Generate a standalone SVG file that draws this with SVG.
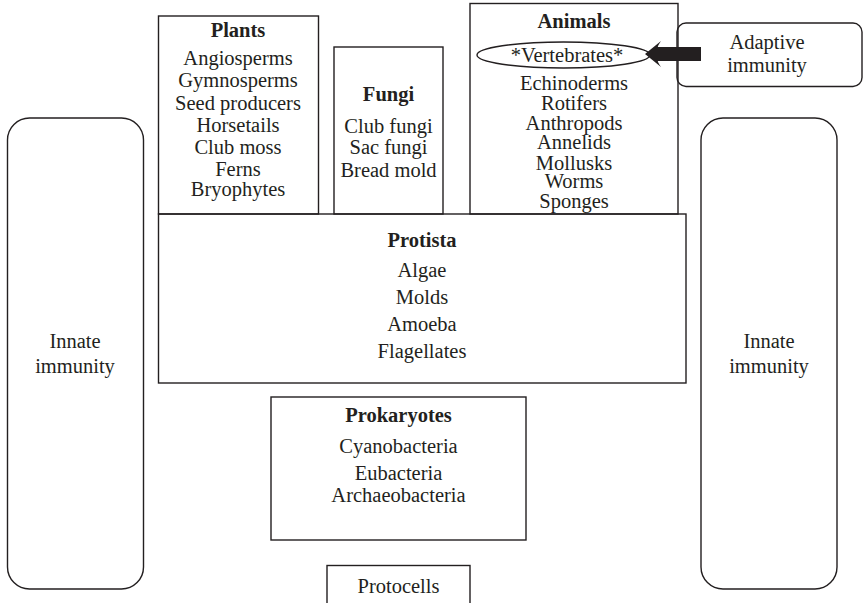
<svg xmlns="http://www.w3.org/2000/svg" width="863" height="603" viewBox="0 0 863 603">
<style>
  .box { fill: none; stroke: #231f20; stroke-width: 1.4; }
  .t { font-family: "Liberation Serif", "Times New Roman", serif; font-size: 20.5px; fill: #231f20; text-anchor: middle; }
  .b { font-weight: bold; }
</style>
<rect x="0" y="0" width="863" height="603" fill="#ffffff"/>
<g id="innate-left">
  <rect class="box" x="7.5" y="118" width="136" height="471" rx="22" ry="22"/>
  <text class="t" x="75" y="348">Innate</text>
  <text class="t" x="75" y="373">immunity</text>
</g>
<g id="innate-right">
  <rect class="box" x="701" y="118" width="136" height="471" rx="22" ry="22"/>
  <text class="t" x="769" y="348">Innate</text>
  <text class="t" x="769" y="373">immunity</text>
</g>
<g id="plants">
  <rect class="box" x="158.5" y="16" width="160" height="198"/>
  <text class="t b" x="238" y="37">Plants</text>
  <text class="t" x="238" y="65">Angiosperms</text>
  <text class="t" x="238" y="87">Gymnosperms</text>
  <text class="t" x="238" y="110">Seed producers</text>
  <text class="t" x="238" y="132">Horsetails</text>
  <text class="t" x="238" y="154">Club moss</text>
  <text class="t" x="238" y="175.5">Ferns</text>
  <text class="t" x="238" y="196">Bryophytes</text>
</g>
<g id="fungi">
  <rect class="box" x="334" y="47" width="109" height="167"/>
  <text class="t b" x="388.5" y="101">Fungi</text>
  <text class="t" x="388.5" y="133">Club fungi</text>
  <text class="t" x="388.5" y="154">Sac fungi</text>
  <text class="t" x="388.5" y="177">Bread mold</text>
</g>
<g id="animals">
  <rect class="box" x="470" y="3.5" width="208" height="210.5"/>
  <text class="t b" x="574" y="28">Animals</text>
  <ellipse class="box" cx="563.5" cy="55" rx="86.5" ry="13"/>
  <text class="t" x="567" y="62">*Vertebrates*</text>
  <text class="t" x="574" y="90">Echinoderms</text>
  <text class="t" x="574" y="110">Rotifers</text>
  <text class="t" x="574" y="129.5">Anthropods</text>
  <text class="t" x="574" y="149">Annelids</text>
  <text class="t" x="574" y="169.5">Mollusks</text>
  <text class="t" x="574" y="188">Worms</text>
  <text class="t" x="574" y="207.5">Sponges</text>
</g>
<g id="adaptive">
  <rect class="box" x="677" y="23" width="185" height="63.5" rx="9" ry="9"/>
  <text class="t" x="767" y="49">Adaptive</text>
  <text class="t" x="767" y="72">immunity</text>
</g>
<g id="protista">
  <rect class="box" x="158.5" y="214" width="527.5" height="169"/>
  <text class="t b" x="422" y="247">Protista</text>
  <text class="t" x="422" y="277">Algae</text>
  <text class="t" x="422" y="304">Molds</text>
  <text class="t" x="422" y="331">Amoeba</text>
  <text class="t" x="422" y="358">Flagellates</text>
</g>
<g id="prokaryotes">
  <rect class="box" x="271" y="397" width="255" height="143"/>
  <text class="t b" x="398.5" y="422">Prokaryotes</text>
  <text class="t" x="398.5" y="453">Cyanobacteria</text>
  <text class="t" x="398.5" y="480">Eubacteria</text>
  <text class="t" x="398.5" y="502">Archaeobacteria</text>
</g>
<g id="protocells">
  <rect class="box" x="327" y="565.5" width="143" height="60"/>
  <text class="t" x="398.5" y="593">Protocells</text>
</g>
<g id="connectors">
  <path d="M645,54 L661,41 Q657,47 658,47 L701,47 L701,61 L658,61 Q657,61 661,67 Z" fill="#231f20"/>
</g>
</svg>
